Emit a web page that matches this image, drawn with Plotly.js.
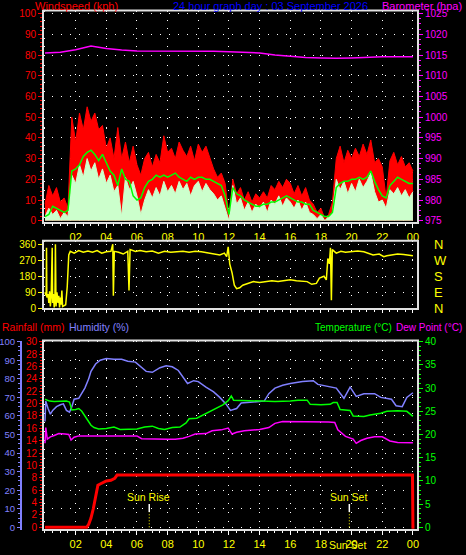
<!DOCTYPE html>
<html><head><meta charset="utf-8">
<script src="https://cdn.plot.ly/plotly-3.0.1.min.js"></script>
<style>html,body{margin:0;padding:0;background:#000;overflow:hidden}#chart{width:466px;height:555px}</style>
</head><body><div id="chart"></div>
<script>
// ---------- data ----------
const hourTickVals = [0,2,4,6,8,10,12,14,16,18,20,22,24];
const hourTickText = ['','02','04','06','08','10','12','14','16','18','20','22','00'];
const windStepHours = 0.25;
const windGust = [
 8,17,12,16, 9,11,6,50, 38,52,44,55, 48,52,44,46, 35,40,30,45, 30,38,28,36,
 27,22,30,33, 26,32,28,41, 33,35,30,38, 34,31,36,29, 37,33,36,30, 25,21,23,18,
 2,20,13,16, 10,14,9,13, 11,14,11,17, 15,19,16,20, 18,13,17,12, 16,10,8,4,
 6,1,3,9, 30,36,28,34, 30,35,31,37, 32,39,28,30, 26,11,29,33, 27,31,26,28, 24];
const windSpeed = [
 2,6,3,5, 1,4,2,22, 18,27,21,30, 24,28,20,25, 18,22,14,17, 2,21,15,19,
 12,3,10,15, 11,16,12,19, 14,17,13,19, 15,18,12,17, 19,14,18,15, 13,10,12,6,
 0,17,8,11, 5,9,4,8, 6,9,4,10, 8,12,7,11, 9,6,10,5, 9,4,3,1,
 3,0,2,4, 20,15,19,13, 18,14,20,16, 19,23,14,9, 10,6,15,13, 16,12,15,11, 14];
const windAvg = [
 2,3,7,6, 5,4,5,24, 25,27,31,33, 34,32,29,32, 28,24,22,17, 25,20,19,12,
 10,11,16,19, 20,22,21,22, 21,22,23,21, 20,19,21,20, 21,21,20,20, 19,18,17,12,
 3,16,13,12, 10,9,8,7, 7,8,8,9, 9,10,11,12, 11,10,9,9, 8,8,5,4,
 3,2,2,4, 16,18,19,19, 20,20,21,20, 21,24,19,15, 12,11,17,19, 21,20,19,18, 18];
const baroHours = [0,1,2,3,4,5,6,7,8,9,10,11,12,13,14,15,16,17,18,19,20,21,22,23,24];
const baroHpa = [1015.5,1015.7,1016.3,1017.2,1016.6,1016.2,1016.0,1016.0,1016.0,1016.0,1016.0,1015.9,1015.8,1015.7,1015.5,1015.0,1014.7,1014.4,1014.3,1014.2,1014.3,1014.5,1014.6,1014.6,1014.6];

const dirHours = [0,0.08,0.10,0.12,0.20,0.25,0.30,0.35,0.40,0.47,0.50,0.55,0.60,0.65,0.68,0.72,0.78,0.85,0.90,0.95,1.00,1.05,1.10,1.15,1.25,1.35,1.45,1.55,1.65,1.9,2.2,2.5,2.8,3.1,3.4,3.7,4.0,4.3,4.42,4.46,4.52,4.8,5.1,5.40,5.48,5.55,5.9,6.2,6.6,7.0,7.4,7.8,8.2,8.6,9.0,9.4,9.8,10.2,10.6,11.0,11.4,11.7,11.85,11.95,12.05,12.2,12.35,12.5,12.7,12.9,13.2,13.6,14.0,14.4,14.8,15.2,15.6,16.0,16.4,16.8,17.1,17.4,17.7,17.9,18.2,18.35,18.45,18.55,18.62,18.68,18.74,19.0,19.3,19.6,20.0,20.4,20.8,21.1,21.4,21.8,22.1,22.3,22.6,23.0,23.4,23.8,24.0];
const dirDeg = [90,70,340,60,80,30,95,10,60,340,30,80,5,60,360,10,90,30,70,5,60,20,100,10,15,20,120,300,320,310,325,315,322,315,325,310,318,320,360,70,320,315,305,320,100,330,320,325,318,322,310,320,315,318,320,315,320,318,312,305,300,310,290,345,250,200,130,110,115,130,140,150,145,150,155,150,155,160,155,150,150,135,140,170,180,160,280,250,340,45,330,310,320,315,320,322,318,308,300,305,290,295,300,305,302,300,295];

const rainHours = [0,2.72,2.85,3.0,3.15,3.3,3.45,3.6,3.8,4.0,4.3,4.55,4.7,23.97,24.0,24.1];
const rainMm = [0,0,0.5,1.5,3,5,6.8,7.0,7.2,7.5,7.6,7.9,8.45,8.45,0,0];

const tempHours = [0,0.3,0.6,1.0,1.4,1.6,1.75,2.0,2.2,2.4,2.7,3.0,3.2,3.5,4.0,4.5,4.9,5.5,6.0,6.5,7.0,7.4,7.8,8.3,8.8,9.2,9.4,9.9,10.3,10.8,11.2,11.6,11.95,12.15,12.3,13.0,14.0,15.0,16.0,16.5,17.1,17.3,18.0,18.6,18.8,19.05,19.25,19.9,20.1,20.8,21.2,21.9,22.3,23.0,23.6,24.0];
const tempC = [27.6,27.2,27.1,27.1,27.2,27.0,25.3,25.4,25.6,25.0,23.5,22.0,21.5,21.2,21.3,21.6,21.1,21.1,21.2,21.6,21.8,21.3,21.1,21.5,21.6,22.5,23.4,23.5,24.2,24.9,25.6,26.4,27.3,28.3,27.4,27.3,27.3,27.1,27.2,27.4,27.4,26.5,26.4,26.5,26.9,26.9,25.4,25.2,24.0,23.9,24.2,24.6,25.0,25.1,25.0,23.9];

const humHours = [0,0.05,0.2,0.35,0.5,0.75,1.0,1.2,1.4,1.6,1.75,1.9,2.2,2.4,2.6,2.85,3.0,3.3,3.6,4.0,4.5,5.0,5.4,5.9,6.3,6.6,7.0,7.5,7.9,8.3,8.7,9.0,9.3,9.7,10.0,10.5,11.0,11.4,11.8,12.1,12.5,12.8,13.5,14.3,14.6,15.0,15.5,16.0,16.8,17.5,17.8,18.5,19.0,19.5,19.9,20.3,20.8,21.5,21.9,22.6,22.9,23.3,23.6,24.0];
const humPct = [57,68,64,61,63,65,66,66.5,63,62,65,69,69.5,72,75,80,84,88,90,91,90.5,90.5,89.5,89,86,84,83.5,86,87,86.5,84.5,81,77.5,79,78.5,75.5,73,70,66.5,63,64,67,67.5,68,72,75,76.5,77.5,78.5,79,77,76,75,69.5,75.5,70.5,72,72,70,69,65.5,65,70,72.5];

const dewHours = [0,0.05,0.15,0.35,0.6,0.9,1.3,1.55,1.7,1.9,2.2,3.0,4.0,5.0,6.0,6.3,7.0,8.0,8.5,9.0,9.4,9.8,10.5,10.9,11.5,11.95,12.2,12.5,13.0,14.0,14.6,15.0,15.5,16.5,17.5,18.5,18.9,19.1,19.6,20.1,20.3,20.6,21.0,21.5,22.0,22.5,23.0,24.0];
const dewC = [18.1,21.5,19.0,19.5,19.8,20.2,20.1,20.0,18.8,19.4,19.7,19.7,19.7,19.7,19.7,19.1,19.0,19.0,19.0,19.2,19.6,20.1,20.2,20.8,21.0,21.4,20.1,20.5,20.8,21.1,21.5,22.4,22.8,22.8,22.7,22.7,22.6,21.0,19.6,19.0,18.1,18.7,19.2,19.5,19.5,18.6,18.3,18.2];

const sunRiseHour = 6.8;
const sunSetHour = 19.85;
const rainTickVals = [0,2,4,6,8,10,12,14,16,18,20,22,24,26,28,30];
const dirTickVals = [0,90,180,270,360];
const dirTickText = ['N','E','S','W','N'];

// ---------- layout helpers ----------
const W = 466, H = 555;
const px = x => x / W;
const py = y => 1 - y / H;
const windT = windGust.map((_, i) => i * windStepHours);
const FONT = 'Liberation Sans, Arial, sans-serif';
const GRID = '1px,8px';
const xDom = [px(43), px(418)];
const xRange = [-0.13, 24.33];
const minorHours = [];
for (let h = 0; h <= 24.001; h += 0.5) minorHours.push(h);

const traces = [
  {x: windT, y: windGust, type: 'scatter', mode: 'lines', fill: 'tozeroy', fillcolor: '#ff0000',
   line: {color: '#ff0000', width: 1}, xaxis: 'x', yaxis: 'y'},
  {x: windT, y: windSpeed, type: 'scatter', mode: 'lines', fill: 'tozeroy', fillcolor: '#ccffcc',
   line: {color: '#ccffcc', width: 1}, xaxis: 'x', yaxis: 'y'},
  {x: windT, y: windAvg, type: 'scatter', mode: 'lines', line: {color: '#00ff00', width: 1.5}, xaxis: 'x', yaxis: 'y'},
  {x: baroHours, y: baroHpa, type: 'scatter', mode: 'lines', line: {color: '#ff00ff', width: 1.5}, xaxis: 'x', yaxis: 'y2'},
  {x: dirHours, y: dirDeg, type: 'scatter', mode: 'lines', line: {color: '#ffff00', width: 1.5}, xaxis: 'x2', yaxis: 'y3'},
  {x: [dirHours[0]], y: [dirDeg[0]], type: 'scatter', mode: 'markers', marker: {opacity: 0}, xaxis: 'x2', yaxis: 'y4'},
  {x: humHours, y: humPct, type: 'scatter', mode: 'lines', line: {color: '#8080ff', width: 1.5}, xaxis: 'x3', yaxis: 'y5'},
  {x: tempHours, y: tempC, type: 'scatter', mode: 'lines', line: {color: '#00ff00', width: 1.5}, xaxis: 'x3', yaxis: 'y7'},
  {x: dewHours, y: dewC, type: 'scatter', mode: 'lines', line: {color: '#ff00ff', width: 1.5}, xaxis: 'x3', yaxis: 'y7'},
  {x: rainHours, y: rainMm, type: 'scatter', mode: 'lines', line: {color: '#ff0000', width: 3}, xaxis: 'x3', yaxis: 'y6'}
];

const TICKFONT = 10;
const baseX = {
  domain: xDom, range: xRange, tickmode: 'array', tickvals: hourTickVals, ticktext: hourTickText,
  showgrid: true, gridcolor: '#ffffff', griddash: GRID, gridwidth: 1, zeroline: false, showline: false,
  ticks: 'outside', ticklen: 4, tickcolor: '#ffffff', tickwidth: 1,
  tickfont: {color: '#ffff00', size: 11, family: FONT},
  minor: {tickmode: 'array', tickvals: minorHours, ticks: 'outside', ticklen: 2, tickcolor: '#ffffff', showgrid: false}
};

const frame = (y0, y1) => ({type: 'rect', xref: 'paper', yref: 'paper', x0: px(43), x1: px(418), y0: py(y1), y1: py(y0),
  line: {color: '#e0e0e0', width: 2}, fillcolor: 'rgba(0,0,0,0)', layer: 'above'});

const ann = (text, x, y, color, xanchor, size) => ({text, x: px(x), y: py(y), xref: 'paper', yref: 'paper',
  xanchor: xanchor || 'left', yanchor: 'middle', showarrow: false, font: {color, size: size || 11, family: FONT}});

const layout = {
  width: W, height: H, margin: {l: 0, r: 0, t: 0, b: 0},
  paper_bgcolor: '#000000', plot_bgcolor: '#000000', showlegend: false,
  xaxis: Object.assign({}, baseX, {anchor: 'y'}),
  xaxis2: Object.assign({}, baseX, {anchor: 'y3', matches: 'x', showticklabels: false, ticklen: 3}),
  xaxis3: Object.assign({}, baseX, {anchor: 'y7'}),
  yaxis: {domain: [py(223), py(10.5)], range: [-1.1, 101.5], dtick: 10, tick0: 0,
    tickfont: {color: '#ff0000', size: TICKFONT, family: FONT}, ticks: 'outside', ticklen: 4, tickcolor: '#ff0000',
    showgrid: true, gridcolor: '#ffffff', griddash: GRID, zeroline: false, showline: false,
    minor: {dtick: 2, tick0: 0, ticks: 'outside', ticklen: 2, tickcolor: '#ff0000', showgrid: false}},
  yaxis2: {overlaying: 'y', side: 'right', anchor: 'x', range: [974.45, 1025.75], dtick: 5, tick0: 975,
    tickfont: {color: '#ff00ff', size: TICKFONT, family: FONT}, ticks: 'outside', ticklen: 4, tickcolor: '#ff00ff',
    showgrid: false, zeroline: false, showline: false,
    minor: {dtick: 1.25, tick0: 975, ticks: 'outside', ticklen: 2, tickcolor: '#ff00ff', showgrid: false}},
  yaxis3: {domain: [py(309), py(240.7)], anchor: 'x2', range: [-4, 380], tickmode: 'array', tickvals: dirTickVals,
    tickfont: {color: '#ffff00', size: TICKFONT, family: FONT}, ticks: 'outside', ticklen: 4, tickcolor: '#ffff00',
    showgrid: true, gridcolor: '#ffffff', griddash: GRID, zeroline: false, showline: false},
  yaxis4: {overlaying: 'y3', side: 'right', anchor: 'x2', range: [-4, 380], tickmode: 'array', tickvals: dirTickVals,
    ticktext: dirTickText, tickfont: {color: '#ffff00', size: 13, family: FONT}, ticks: '', ticklabelstandoff: 15,
    showgrid: false, zeroline: false, showline: false},
  yaxis5: {domain: [py(530), py(340.5)], anchor: 'free', position: px(21), side: 'left', range: [-1.45, 100.65], dtick: 10, tick0: 0,
    tickfont: {color: '#8080ff', size: 9.5, family: FONT}, ticks: 'outside', ticklen: 3, tickcolor: '#8080ff',
    showline: true, linecolor: '#8080ff', linewidth: 2,
    showgrid: true, gridcolor: '#ffffff', griddash: GRID, zeroline: false,
    minor: {dtick: 2.5, tick0: 0, ticks: 'outside', ticklen: 2, tickcolor: '#8080ff', showgrid: false}},
  yaxis6: {overlaying: 'y5', side: 'left', anchor: 'x3', range: [-0.435, 30.2], tickmode: 'array', tickvals: rainTickVals,
    tickfont: {color: '#ff0000', size: TICKFONT, family: FONT}, ticks: 'outside', ticklen: 3, tickcolor: '#ff0000',
    showgrid: false, zeroline: false, showline: false,
    minor: {tickmode: 'linear', dtick: 0.5, tick0: 0, ticks: 'outside', ticklen: 2, tickcolor: '#ff0000', showgrid: false}},
  yaxis7: {overlaying: 'y5', side: 'right', anchor: 'x3', range: [-0.58, 40.26], dtick: 5, tick0: 0,
    tickfont: {color: '#00ff00', size: TICKFONT, family: FONT}, ticks: 'outside', ticklen: 4, tickcolor: '#00ff00',
    showgrid: false, zeroline: false, showline: false,
    minor: {dtick: 1, tick0: 0, ticks: 'outside', ticklen: 2, tickcolor: '#00ff00', showgrid: false}},
  shapes: [
    frame(10.5, 223), frame(240.7, 309), frame(340.5, 530),
    {type: 'line', xref: 'x3', yref: 'y7', x0: sunRiseHour, x1: sunRiseHour, y0: 3.3, y1: 5, line: {color: '#ffffff', width: 1.5}},
    {type: 'line', xref: 'x3', yref: 'y7', x0: sunRiseHour, x1: sunRiseHour, y0: 0, y1: 3.3, line: {color: '#ffff00', width: 1, dash: '1px,2px'}},
    {type: 'line', xref: 'x3', yref: 'y7', x0: sunSetHour, x1: sunSetHour, y0: 3.3, y1: 5, line: {color: '#ffffff', width: 1.5}},
    {type: 'line', xref: 'x3', yref: 'y7', x0: sunSetHour, x1: sunSetHour, y0: 0, y1: 3.3, line: {color: '#ffff00', width: 1, dash: '1px,2px'}}
  ],
  annotations: [
    ann('Windspeed (kph)', 33, 6, '#ff0000'),
    ann('24 hour graph day : 03 September 2026', 171, 6, '#0000ff'),
    ann('Barometer (hpa)', 464, 6, '#ff00ff', 'right'),
    ann('Rainfall (mm)', 0, 327, '#ff0000', 'left', 10.5),
    ann('Humidity (%)', 67, 327, '#8080ff', 'left', 10.5),
    ann('Temperature (°C)', 313, 327, '#00ff00', 'left', 10),
    ann('Dew Point (°C)', 464, 327, '#ff00ff', 'right', 10),
    ann('Sun Rise', 148, 497, '#ffff00', 'center', 10.5),
    ann('Sun Set', 348, 497, '#ffff00', 'center', 10.5),
    ann('Sun Set', 347, 545, '#ffff00', 'center', 10.5)
  ]
};

Plotly.newPlot('chart', traces, layout, {staticPlot: true, displayModeBar: false});
</script>
</body></html>
